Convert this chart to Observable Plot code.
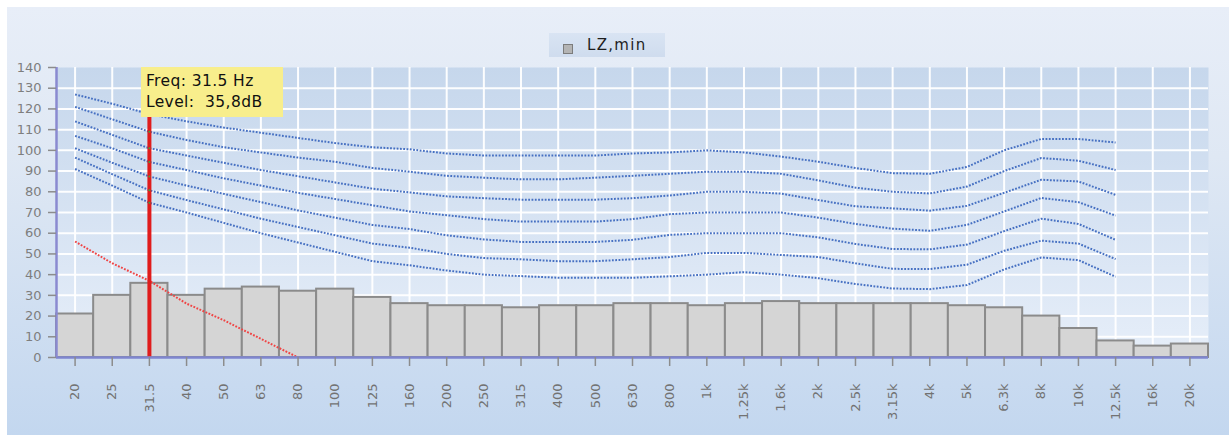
<!DOCTYPE html>
<html>
<head>
<meta charset="utf-8">
<script src="https://cdn.jsdelivr.net/npm/d3@7"></script>
<script src="https://cdn.jsdelivr.net/npm/@observablehq/plot@0.6"></script>
<style>
  html, body { margin: 0; padding: 0; background: #fff; }
  #wrap { position: relative; width: 1229px; height: 435px; overflow: hidden; font-family: "DejaVu Sans", Verdana, sans-serif; }
  #panel { position: absolute; left: 7px; top: 7px; right: 0; bottom: 0;
           background: linear-gradient(to bottom, #e8eef8 0%, #dfe8f4 35%, #c3d7ef 100%); }
  #chart { position: absolute; left: 0; top: 0; }
  #legend { position: absolute; left: 549px; top: 33px; width: 116px; height: 24px;
            background: linear-gradient(to bottom, #d9e4f3, #cfdcee); }
  #legend .swatch { position: absolute; left: 14px; top: 11px; width: 8px; height: 8px;
                    background: #b4b4b4; border: 1px solid #7c7c7c; }
  #legend .label { position: absolute; left: 38px; top: 3px; font-size: 15px; letter-spacing: 1.3px; color: #1e1e1e; white-space: nowrap; }
  #tip { position: absolute; background: #f8ee8c; color: #111; font-size: 15.5px; line-height: 21px;
         padding: 4px 0 0 5px; box-sizing: border-box; white-space: pre; letter-spacing: 0.4px; }
</style>
</head>
<body>
<div id="wrap">
  <div id="panel"></div>
  <div id="chart"></div>
  <div id="legend"><div class="swatch"></div><div class="label">LZ,min</div></div>
  <div id="tip"></div>
</div>
<script>
// Third-octave band labels
const bands = ["20", "25", "31.5", "40", "50", "63", "80", "100", "125", "160", "200", "250", "315", "400", "500",
               "630", "800", "1k", "1.25k", "1.6k", "2k", "2.5k", "3.15k", "4k", "5k", "6.3k", "8k", "10k", "12.5k", "16k", "20k"];

// LZ,min level per band (dB)
const lzMin = [21, 30, 35.8, 30, 33, 34, 32, 33, 29, 26, 25, 25, 24, 25, 25,
               26, 26, 25, 26, 27, 26, 26, 26, 26, 25, 24, 20, 14, 8, 5.5, 6.5];

// Reference contours, 20 Hz .. 12.5 kHz (named by their level at 1 kHz)
const contour100 = [127, 122.5, 117.5, 114, 111, 108.5, 106, 103.5, 101.5, 100.5, 98.5, 97.5, 97.5, 97.5, 97.5,
                    98.5, 99, 100, 99, 97, 94.5, 91.5, 89, 88.7, 92, 100, 105.5, 105.5, 103.8];
const contour90  = [121, 115, 109, 105, 101.5, 99, 96.5, 94.5, 91.5, 89.7, 87.7, 86.8, 86, 86, 86.8,
                    87.7, 88.7, 89.7, 89.7, 88.7, 85.5, 82, 80, 79.2, 82.5, 90, 96.3, 95, 90.5];
const contour80  = [114, 107.5, 101, 97.5, 94, 90.5, 87.5, 84.5, 81.5, 79.7, 77.8, 76.9, 76.2, 76.2, 76.2,
                    76.9, 78.2, 80, 80, 79.1, 76, 73, 72, 70.9, 73.2, 79.5, 85.8, 85, 78.5];
const contour70  = [107, 101, 94.4, 90.5, 86.5, 83, 79.5, 76.5, 73.5, 70.5, 68.7, 66.8, 65.6, 65.6, 65.6,
                    66.8, 69.2, 70, 70, 70, 67.5, 64.5, 62.2, 61.2, 64, 70.5, 77, 75, 68.5];
const contour60  = [101, 94, 87.4, 83, 79, 75, 71, 67.5, 64, 62, 59, 57, 55.8, 55.8, 55.8,
                    56.8, 59.2, 60, 60, 60, 58, 54.8, 52.4, 52.2, 54.5, 61, 67, 64.5, 56.8];
const contour50  = [96.5, 88.5, 80.7, 76, 71.5, 67, 63, 59, 55, 53, 50, 48, 47.4, 46.5, 46.5,
                    47.4, 48.5, 50.5, 50.5, 49.5, 48.5, 45.5, 42.8, 42.7, 44.8, 51.5, 56.4, 55, 47.5];
const contour40  = [91, 83, 74.7, 70, 65, 60, 55.5, 51, 46.5, 44.5, 42, 40, 39.3, 38.5, 38.5,
                    38.5, 39.2, 40, 41.2, 40, 38.3, 35.5, 33.3, 33, 35, 42.5, 48.3, 47, 39];

// Low-frequency limit line, 20 Hz .. 80 Hz
const limitLine = [56, 45.5, 37, 26, 18, 9, 0];

// Cursor readout
const cursorBand = "31.5";
const cursorLevel = 35.8;
const tipLines = ["Freq: 31.5 Hz", "Level:  35,8dB"];

const yTicks = d3.range(0, 141, 10);

const cursorIndex = bands.indexOf(cursorBand);
const barData = bands.map((b, i) => ({i, v: lzMin[i]}));
const contours = [contour100, contour90, contour80, contour70, contour60, contour50, contour40];
const contourData = contours.flatMap((arr, k) => arr.map((v, i) => ({k, i, v})));
const limitData = limitLine.map((v, i) => ({i, v}));
const cursorHits = contours.slice(1).map(c => ({i: cursorIndex, v: c[cursorIndex]}));

// Square dots: butt caps so the gaps stay open
const dotted = {strokeWidth: 2, strokeDasharray: "1.8,1.5", strokeLinecap: "butt", strokeLinejoin: "miter"};

const chart = Plot.plot({
  width: 1229,
  height: 435,
  marginLeft: 56,
  marginRight: 21,
  marginTop: 67,
  marginBottom: 78,
  style: {background: "none", fontFamily: "DejaVu Sans, Verdana, sans-serif", fontSize: "13px", overflow: "visible"},
  x: {type: "linear", domain: [-0.5, bands.length - 0.5]},
  y: {domain: [0, 140]},
  marks: [
    Plot.frame({fill: "url(#plotBg)", stroke: "none"}),
    Plot.gridY(yTicks.slice(1, -1), {stroke: "#ffffff", strokeOpacity: 0.95, strokeWidth: 2}),
    Plot.gridX(d3.range(bands.length), {stroke: "#ffffff", strokeOpacity: 0.95, strokeWidth: 2}),
    Plot.rect(barData, {x1: d => d.i - 0.5, x2: d => d.i + 0.5, y1: 0, y2: "v",
                        fill: "#d5d5d5", stroke: "#8b8b8b", strokeWidth: 2}),
    Plot.line(contourData, {x: "i", y: "v", z: "k", stroke: "#4670c2", ...dotted}),
    Plot.line(limitData, {x: "i", y: "v", stroke: "#f04444", ...dotted}),
    Plot.ruleX([cursorIndex], {y1: 0, y2: 140, stroke: "#e01c1c", strokeWidth: 4}),
    Plot.dot(cursorHits, {x: "i", y: "v", r: 1, fill: "#3f9f3f"}),
    Plot.ruleY([0], {stroke: "#7f86cf", strokeWidth: 2.5}),
    Plot.ruleX([-0.5], {stroke: "#8a8ad0", strokeWidth: 2.5}),
    Plot.axisY(yTicks, {label: null, tickSize: 8, tickPadding: 7, stroke: "#8c8c8c", strokeWidth: 1.5,
                        color: "#7e7e7e", fontSize: 13}),
    Plot.axisX(d3.range(bands.length), {label: null, tickFormat: i => bands[i], tickRotate: -90,
                        tickSize: 9, tickPadding: 17, stroke: "#8c8c8c", strokeWidth: 1.5,
                        color: "#727272", fontSize: 13})
  ]
});

// Vertical gradient for the plotting area
const defs = d3.select(chart).insert("defs", ":first-child");
const grad = defs.append("linearGradient").attr("id", "plotBg")
  .attr("x1", 0).attr("y1", 0).attr("x2", 0).attr("y2", 1);
grad.append("stop").attr("offset", "0%").attr("stop-color", "#c6d7ec");
grad.append("stop").attr("offset", "100%").attr("stop-color", "#e6eef9");

document.getElementById("chart").appendChild(chart);

// Cursor readout box, anchored at the cursor band and the top of the y scale
const xs = chart.scale("x"), ys = chart.scale("y");
const tip = document.getElementById("tip");
tip.textContent = tipLines.join("\n");
tip.style.left = (xs.apply(cursorIndex) - 8) + "px";
tip.style.top = ys.apply(140) + "px";
tip.style.width = "142px";
tip.style.height = "50px";
</script>
</body>
</html>
